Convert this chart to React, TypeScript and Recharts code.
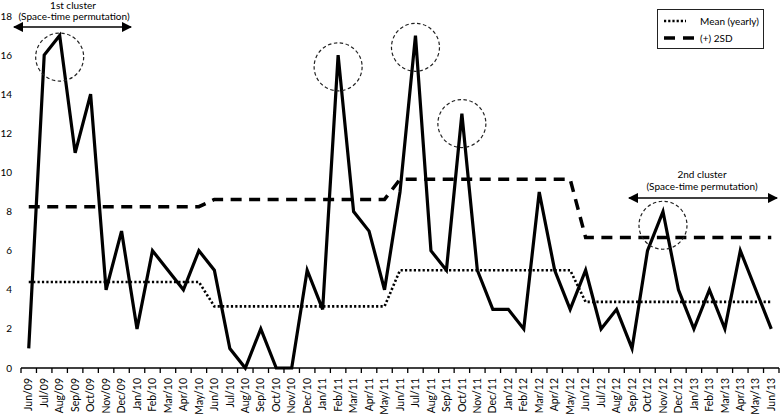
import React from 'react';
import { LineChart, Line, XAxis, YAxis, ReferenceDot, Legend } from 'recharts';

const months = [
  'Jun/09', 'Jul/09', 'Aug/09', 'Sep/09', 'Oct/09', 'Nov/09', 'Dec/09', 'Jan/10', 'Feb/10', 'Mar/10', 'Apr/10', 'May/10',
  'Jun/10', 'Jul/10', 'Aug/10', 'Sep/10', 'Oct/10', 'Nov/10', 'Dec/10', 'Jan/11', 'Feb/11', 'Mar/11', 'Apr/11', 'May/11',
  'Jun/11', 'Jul/11', 'Aug/11', 'Sep/11', 'Oct/11', 'Nov/11', 'Dec/11', 'Jan/12', 'Feb/12', 'Mar/12', 'Apr/12', 'May/12',
  'Jun/12', 'Jul/12', 'Aug/12', 'Sep/12', 'Oct/12', 'Nov/12', 'Dec/12', 'Jan/13', 'Feb/13', 'Mar/13', 'Apr/13', 'May/13', 'Jun/13',
];

const cases = [
  1, 16, 17, 11, 14, 4, 7, 2, 6, 5, 4, 6,
  5, 1, 0, 2, 0, 0, 5, 3, 16, 8, 7, 4,
  9, 17, 6, 5, 13, 5, 3, 3, 2, 9, 5, 3,
  5, 2, 3, 1, 6, 8, 4, 2, 4, 2, 6, 4, 2,
];

// one value per surveillance year (Jun-May)
const yearlyMean = [4.4, 3.15, 5.0, 3.38];
const yearlyPlus2SD = [8.25, 8.62, 9.65, 6.67];

const yTicks = [0, 2, 4, 6, 8, 10, 12, 14, 16, 18];

// dashed circles around the signal peaks
const circledPeaks = [
  { month: 'Aug/09', y: 15.9 },
  { month: 'Feb/11', y: 15.4 },
  { month: 'Jul/11', y: 16.4 },
  { month: 'Oct/11', y: 12.5 },
  { month: 'Nov/12', y: 7.3 },
];

const data = months.map((m, i) => {
  const yr = Math.min(Math.floor(i / 12), 3);
  return { month: m, cases: cases[i], mean: yearlyMean[yr], sd2: yearlyPlus2SD[yr] };
});

const FONT = 'Lato, "Open Sans", sans-serif';
const BAND = 758 / months.length;

const MonthTick = (props: any) => {
  const { x, y, payload, index } = props;
  const axisY = y - 10;
  return (
    <g>
      <line x1={x - BAND / 2} x2={x - BAND / 2} y1={axisY} y2={axisY + 5} stroke="#000" strokeWidth={1.3} />
      {index === months.length - 1 && (
        <line x1={x + BAND / 2} x2={x + BAND / 2} y1={axisY} y2={axisY + 5} stroke="#000" strokeWidth={1.3} />
      )}
      <text
        x={x}
        y={y}
        dy="0.35em"
        transform={`rotate(-90, ${x}, ${y})`}
        textAnchor="end"
        fontSize={10.5}
        fontFamily={FONT}
        fill="#000"
      >
        {payload.value}
      </text>
    </g>
  );
};

const LegendBox = () => (
  <div
    style={{
      boxSizing: 'border-box',
      border: '1px solid #222',
      background: '#fff',
      padding: '2px 0 2px 5px',
      fontFamily: FONT,
      fontSize: 10,
      color: '#000',
      width: 107,
      height: 40,
      whiteSpace: 'nowrap',
    }}
  >
    <div style={{ display: 'flex', alignItems: 'center', height: 17 }}>
      <svg width={37} height={6} style={{ flex: 'none' }}>
        <line x1={1} x2={23} y1={3} y2={3} stroke="#000" strokeWidth={2.6} strokeDasharray="2.2 2" />
      </svg>
      <span>Mean (yearly)</span>
    </div>
    <div style={{ display: 'flex', alignItems: 'center', height: 17 }}>
      <svg width={37} height={6} style={{ flex: 'none' }}>
        <line x1={1} x2={31} y1={3} y2={3} stroke="#000" strokeWidth={3.5} strokeDasharray="11 8" />
      </svg>
      <span>(+) 2SD</span>
    </div>
  </div>
);

export default function App() {
  return (
    <div style={{ position: 'fixed', left: 0, top: 0, width: 780, height: 418, background: '#fff' }}>
      <LineChart width={780} height={418} data={data} margin={{ top: 16, right: 1, left: 0, bottom: 0 }}>
        <XAxis
          dataKey="month"
          interval={0}
          height={50}
          padding={{ left: BAND / 2, right: BAND / 2 }}
          tickSize={5}
          tickMargin={5}
          tickLine={false}
          axisLine={{ stroke: '#000', strokeWidth: 1.5 }}
          tick={<MonthTick />}
        />
        <YAxis
          domain={[0, 18]}
          ticks={yTicks}
          width={21}
          axisLine={false}
          tickLine={false}
          tickSize={0}
          tickMargin={9}
          tick={{ fontSize: 10, fontFamily: FONT, fill: '#000' }}
        />
        <Legend
          layout="vertical"
          align="center"
          verticalAlign="middle"
          content={<LegendBox />}
          wrapperStyle={{ left: 657, top: 9, width: 107 }}
        />
        <Line type="linear" dataKey="sd2" stroke="#000" strokeWidth={3.5} strokeDasharray="11 7.5" dot={false} isAnimationActive={false} />
        <Line type="linear" dataKey="mean" stroke="#000" strokeWidth={2.6} strokeDasharray="2.2 2.2" dot={false} isAnimationActive={false} />
        <Line type="linear" dataKey="cases" stroke="#000" strokeWidth={3.2} dot={false} isAnimationActive={false} />
        {circledPeaks.map((p) => (
          <ReferenceDot
            key={p.month}
            x={p.month}
            y={p.y}
            r={24}
            fill="none"
            stroke="#222"
            strokeWidth={1.2}
            strokeDasharray="3.5 2.5"
            ifOverflow="visible"
          />
        ))}
      </LineChart>
      <svg
        width={780}
        height={418}
        style={{ position: 'absolute', left: 0, top: 0, pointerEvents: 'none' }}
        fontFamily={FONT}
        fontSize={10}
        fill="#000"
      >
        <defs>
          <marker id="ah" viewBox="0 0 10 10" refX={9} refY={5} markerWidth={7} markerHeight={7} orient="auto-start-reverse">
            <path d="M0,0 L10,5 L0,10 z" fill="#000" />
          </marker>
        </defs>
        <text x={73} y={9} textAnchor="middle">1st cluster</text>
        <text x={74} y={20} textAnchor="middle">(Space-time permutation)</text>
        <line x1={14} x2={131} y1={27} y2={27} stroke="#000" strokeWidth={1.5} markerStart="url(#ah)" markerEnd="url(#ah)" />
        <text x={702} y={178} textAnchor="middle">2nd cluster</text>
        <text x={702} y={190} textAnchor="middle">(Space-time permutation)</text>
        <line x1={629} x2={777} y1={198} y2={198} stroke="#000" strokeWidth={1.5} markerStart="url(#ah)" markerEnd="url(#ah)" />
      </svg>
    </div>
  );
}
